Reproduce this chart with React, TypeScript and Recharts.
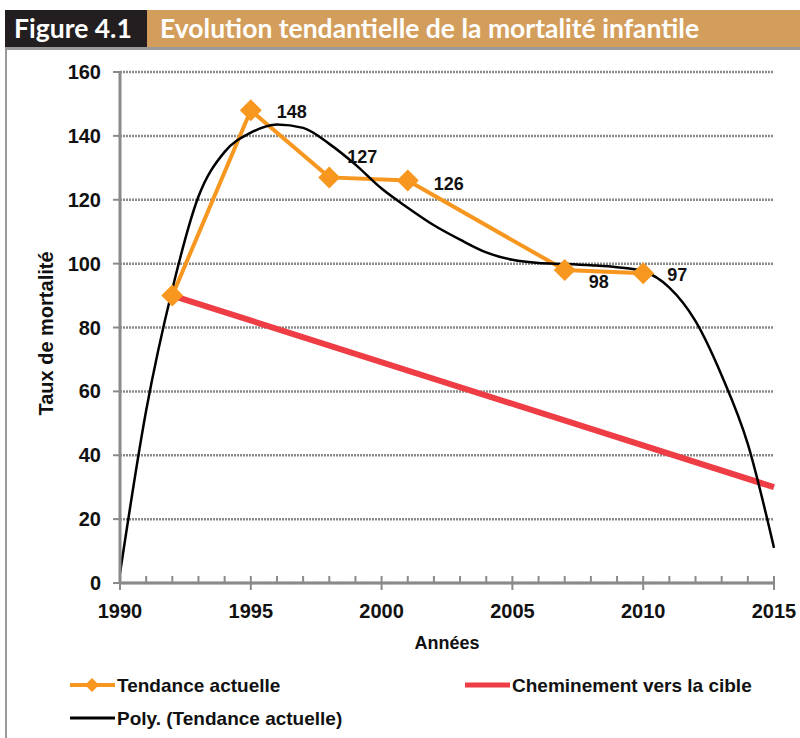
import { LineChart, Line, XAxis, YAxis, CartesianGrid, LabelList, Label } from "recharts";

// axis ticks
const AXIS_YEARS = [
  1990, 1991, 1992, 1993, 1994, 1995, 1996, 1997, 1998, 1999, 2000, 2001, 2002,
  2003, 2004, 2005, 2006, 2007, 2008, 2009, 2010, 2011, 2012, 2013, 2014, 2015,
];
const LABELLED_YEARS = [1990, 1995, 2000, 2005, 2010, 2015];
const Y_TICKS = [0, 20, 40, 60, 80, 100, 120, 140, 160];

// Tendance actuelle
const TREND_YEARS = [1992, 1995, 1998, 2001, 2007, 2010];
const TREND_VALUES = [90, 148, 127, 126, 98, 97];

// Cheminement vers la cible
const TARGET_YEARS = [1992, 2015];
const TARGET_VALUES = [90, 30];

// Poly. (Tendance actuelle)
const POLY_YEARS = AXIS_YEARS;
const POLY_VALUES = [
  3, 54, 92, 121, 135, 141, 143.6, 142.5, 137.5, 131, 123.5, 117.5, 112,
  107.5, 103.5, 101.2, 100.2, 99.9, 99.5, 98.9, 97.6, 92.5, 82, 65, 43.5, 11,
];

const ORANGE = "#f7971f";
const RED = "#ee3d44";
const GREY = "#8a8a8a";
const FONT = "'Liberation Sans', Arial, sans-serif";

const trendData = TREND_YEARS.map((year, i) => ({ year, value: TREND_VALUES[i] }));
const targetData = TARGET_YEARS.map((year, i) => ({ year, value: TARGET_VALUES[i] }));
const polyData = POLY_YEARS.map((year, i) => ({ year, value: POLY_VALUES[i] }));

// label nudges per point (first point has no label)
const LABEL_NUDGE = [null, [26, 2], [18, -20], [26, 3], [24, 12], [24, 2]];

function Diamond(props: any) {
  const { cx, cy, r = 11 } = props;
  if (cx == null || cy == null) return null;
  return (
    <polygon
      points={`${cx},${cy - r} ${cx + r},${cy} ${cx},${cy + r} ${cx - r},${cy}`}
      fill={ORANGE}
    />
  );
}

function PointLabel(props: any) {
  const { x, y, value, index } = props;
  const nudge = LABEL_NUDGE[index];
  if (!nudge) return null;
  return (
    <text
      x={x + nudge[0]}
      y={y + nudge[1]}
      dominantBaseline="central"
      fontFamily={FONT}
      fontWeight="bold"
      fontSize={18}
      fill="#111"
    >
      {value}
    </text>
  );
}

function YearTick(props: any) {
  const { x, y, payload } = props;
  const major = LABELLED_YEARS.includes(payload.value);
  return (
    <g>
      <line x1={x} x2={x} y1={y - 7} y2={major ? y + 7 : y} stroke={GREY} strokeWidth={2} />
      {major && (
        <text
          x={x}
          y={y + 21}
          dy="0.71em"
          textAnchor="middle"
          fontFamily={FONT}
          fontWeight="bold"
          fontSize={20}
          fill="#111"
        >
          {payload.value}
        </text>
      )}
    </g>
  );
}

function ChartLegend() {
  const text = { fontFamily: FONT, fontWeight: "bold", fontSize: 19, fill: "#111" } as const;
  return (
    <svg width={800} height={80} style={{ position: "absolute", left: 0, top: 660 }}>
      <line x1={70} x2={115} y1={25} y2={25} stroke={ORANGE} strokeWidth={4} />
      <Diamond cx={92} cy={25} r={7} />
      <text x={117} y={25} dominantBaseline="central" {...text}>Tendance actuelle</text>
      <line x1={465} x2={510} y1={25} y2={25} stroke={RED} strokeWidth={5} />
      <text x={512} y={25} dominantBaseline="central" {...text}>Cheminement vers la cible</text>
      <line x1={70} x2={115} y1={58} y2={58} stroke="#000" strokeWidth={3} />
      <text x={117} y={58} dominantBaseline="central" {...text}>Poly. (Tendance actuelle)</text>
    </svg>
  );
}

export default function App() {
  const head = {
    position: "absolute",
    top: 10,
    height: 37,
    lineHeight: "37px",
    color: "#fff",
    fontFamily: "Lato, sans-serif",
    fontWeight: 700,
    fontSize: 26.5,
    whiteSpace: "nowrap",
  } as const;
  return (
    <div style={{ position: "absolute", left: 0, top: 0, width: 800, height: 738, background: "#fff", overflow: "hidden" }}>
      {/* header band */}
      <div style={{ position: "absolute", left: 5, top: 10, width: 142, height: 37, background: "#231f20" }} />
      <div style={{ position: "absolute", left: 147, top: 10, width: 653, height: 37, background: "#d39e5b" }} />
      <div style={{ position: "absolute", left: 5, top: 47, width: 795, height: 3, background: "#9a9a9a" }} />
      <div style={{ position: "absolute", left: 5, top: 47, width: 1.5, height: 691, background: "#9a9a9a" }} />
      <div style={{ ...head, left: 14 }}>Figure 4.1</div>
      <div style={{ ...head, left: 160 }}>Evolution tendantielle de la mortalité infantile</div>

      <div style={{ position: "absolute", left: 0, top: 0 }}>
        <LineChart width={800} height={738} margin={{ top: 72, right: 26, bottom: 95, left: 20 }}>
          <CartesianGrid vertical={false} stroke={GREY} strokeWidth={2.5} strokeDasharray="2 1" />
          <XAxis
            type="number"
            dataKey="year"
            domain={[1990, 2015]}
            ticks={AXIS_YEARS}
            interval={0}
            height={60}
            tickSize={0}
            tickMargin={0}
            tickLine={false}
            tick={(p: any) => <YearTick {...p} />}
            axisLine={{ stroke: GREY, strokeWidth: 3 }}
          >
            <Label
              content={(p: any) => {
                const vb = p.viewBox;
                return (
                  <text x={vb.x + vb.width / 2} y={vb.y + 60} textAnchor="middle" dominantBaseline="central" fontFamily={FONT} fontWeight="bold" fontSize={18} fill="#111">
                    Années
                  </text>
                );
              }}
            />
          </XAxis>
          <YAxis
            type="number"
            domain={[0, 160]}
            ticks={Y_TICKS}
            width={100}
            tickSize={7}
            tickMargin={12}
            tickLine={{ stroke: GREY, strokeWidth: 2 }}
            axisLine={{ stroke: GREY, strokeWidth: 3 }}
            tick={{ fill: "#111", fontFamily: FONT, fontWeight: "bold", fontSize: 20 }}
          >
            <Label
              content={(p: any) => {
                const vb = p.viewBox;
                const cx = vb.x + 26;
                const cy = vb.y + vb.height / 2 + 6;
                return (
                  <text x={cx} y={cy} transform={`rotate(-90 ${cx} ${cy})`} textAnchor="middle" dominantBaseline="central" fontFamily={FONT} fontWeight="bold" fontSize={20} fill="#111">
                    Taux de mortalité
                  </text>
                );
              }}
            />
          </YAxis>

          <Line
            data={trendData}
            dataKey="value"
            type="linear"
            stroke={ORANGE}
            strokeWidth={4}
            dot={(p: any) => <Diamond key={p.index} cx={p.cx} cy={p.cy} />}
            activeDot={false}
            isAnimationActive={false}
          >
            <LabelList dataKey="value" content={(p: any) => <PointLabel {...p} />} />
          </Line>
          <Line
            data={targetData}
            dataKey="value"
            type="linear"
            stroke={RED}
            strokeWidth={6}
            dot={false}
            activeDot={false}
            isAnimationActive={false}
          />
          <Line
            data={polyData}
            dataKey="value"
            type="monotone"
            stroke="#000"
            strokeWidth={2.5}
            dot={false}
            activeDot={false}
            isAnimationActive={false}
          />
        </LineChart>
      </div>
      <ChartLegend />
    </div>
  );
}
